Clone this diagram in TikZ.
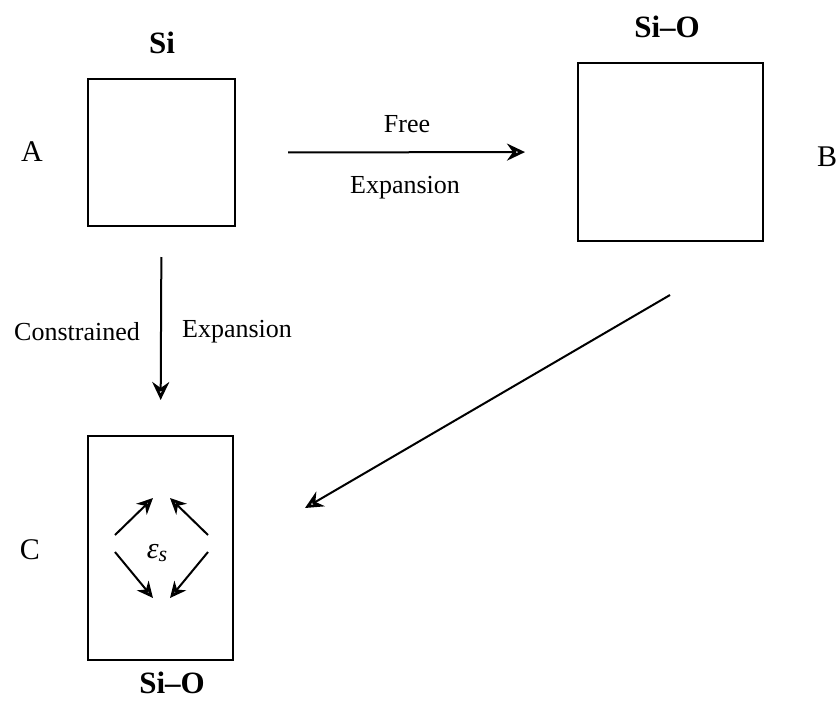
\documentclass[tikz,border=0pt]{standalone}
\usepackage{fontspec}
\setmainfont{Liberation Serif}
\usetikzlibrary{arrows.meta}

\begin{document}
\begin{tikzpicture}[x=1pt,y=-1pt,
  cell/.style={draw, line width=2pt, inner sep=0pt, outer sep=0pt},
  flow/.style={line width=2pt, -{Stealth[open, length=18pt, width=17pt, inset=6pt, line width=2.8pt]}},
  strain/.style={line width=2pt, -{Stealth[open, length=16pt, width=15pt, inset=5pt, line width=2.8pt]}},
  phase/.style={font=\fontsize{31}{35}\selectfont\bfseries, inner sep=0pt},
  letter/.style={font=\fontsize{30}{34}\selectfont, inner sep=0pt},
  caption/.style={font=\fontsize{26}{30}\selectfont, inner sep=0pt}]
\useasboundingbox (0,0) rectangle (837,715);

% the three states of the crystal
\node[cell, minimum width=147pt, minimum height=147pt] (A) at (161.5,152.5) {};
\node[cell, minimum width=185pt, minimum height=178pt] (B) at (670.5,152) {};
\node[cell, minimum width=145pt, minimum height=224pt] (C) at (160.5,548) {};

% phase names and state letters
\node[phase] (siA) at (162,43) {Si};
\node[phase] (siB) at (667,27) {Si–O};
\node[phase] (siC) at (172,683) {Si–O};
\node[letter] (labA) at (32,152) {A};
\node[letter] (labB) at (827,157) {B};
\node[letter] (labC) at (30,550) {C};

% free expansion A -> B
\draw[flow, shorten <=53pt, shorten >=53pt] (A.east) -- (B.west);
\node[caption] (free) at (407,124) {Free};
\node[caption] (freeexp) at (405,188) {Expansion};

% constrained expansion A -> C
\draw[flow, shorten <=31pt, shorten >=36pt] (A.south) -- (C.north);
\node[caption] (constr) at (77,332) {Constrained};
\node[caption] (constrexp) at (237,332) {Expansion};

% B -> C
\coordinate (bc1) at (670,295);
\coordinate (bc2) at (305,508);
\draw[flow] (bc1) -- (bc2);

% strain inside the constrained box
\node[font=\fontsize{30}{34}\selectfont\itshape, inner sep=0pt] (eps) at (157,553) {ε\raisebox{-0.25ex}{\fontsize{22}{26}\selectfont s}};
\coordinate (ulT) at (115,535); \coordinate (ulH) at (153,498);
\coordinate (urT) at (208,535); \coordinate (urH) at (170,498);
\coordinate (llT) at (115,552); \coordinate (llH) at (153,598);
\coordinate (lrT) at (208,552); \coordinate (lrH) at (170,598);
\draw[strain] (ulT) -- (ulH);
\draw[strain] (urT) -- (urH);
\draw[strain] (llT) -- (llH);
\draw[strain] (lrT) -- (lrH);
\end{tikzpicture}
\end{document}
